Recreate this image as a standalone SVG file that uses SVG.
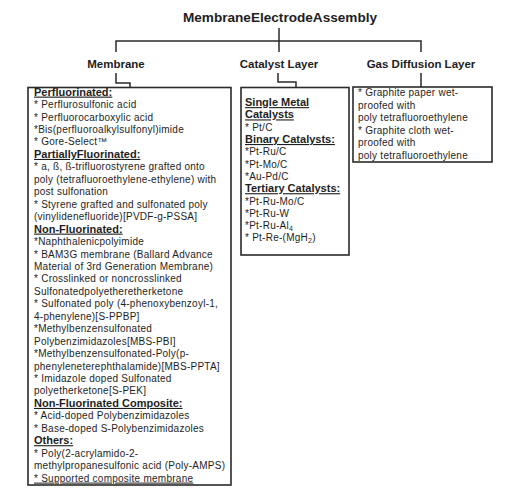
<svg xmlns="http://www.w3.org/2000/svg" width="518" height="492" viewBox="0 0 518 492">
<style>
  text { font-family: "Liberation Sans", Arial, sans-serif; fill: #1e1e1e; }
  .title { font-size: 13.6px; font-weight: bold; text-anchor: middle; }
  .lvl { font-size: 11.5px; font-weight: bold; text-anchor: middle; }
  .b { font-size: 10px; letter-spacing: 0.25px; }
  .h { font-size: 11px; font-weight: bold; text-decoration: underline; }
  .u { text-decoration: underline; }
  .box { fill: #ffffff; stroke: #2a2a2a; stroke-width: 1.6; }
  .wire { fill: none; stroke: #2a2a2a; stroke-width: 1.5; }
</style>
<rect width="518" height="492" fill="#ffffff"/>

<g id="connectors">
  <path class="wire" d="M279,28 V52"/>
  <path class="wire" d="M116,52 V41 H421 V52"/>
  <path class="wire" d="M116,73 V83 H130 V88"/>
  <path class="wire" d="M278,73 V82 H296 V88"/>
  <path class="wire" d="M421,73 V88"/>
</g>

<g id="root">
  <text class="title" x="280" y="22">MembraneElectrodeAssembly</text>
</g>

<g id="membrane-label"><text class="lvl" x="116" y="67.5">Membrane</text></g>
<g id="catalyst-label"><text class="lvl" x="279" y="67.5">Catalyst Layer</text></g>
<g id="gdl-label"><text class="lvl" x="421" y="67.5">Gas Diffusion Layer</text></g>

<g id="membrane-box">
  <rect class="box" x="28" y="87.5" width="203" height="397.5"/>
  <text class="h" x="34" y="95.6">Perfluorinated:</text>
  <text class="b" x="34" y="108.0">* Perflurosulfonic acid</text>
  <text class="b" x="34" y="120.5">* Perfluorocarboxylic acid</text>
  <text class="b" x="34" y="132.9">*Bis(perfluoroalkylsulfonyl)imide</text>
  <text class="b" x="34" y="145.4">* Gore-Select™</text>
  <text class="h" x="34" y="157.9">PartiallyFluorinated:</text>
  <text class="b" x="34" y="170.3">* a, ß, ß-trifluorostyrene grafted onto</text>
  <text class="b" x="34" y="182.8">poly  (tetrafluoroethylene-ethylene) with</text>
  <text class="b" x="34" y="195.2">post sulfonation</text>
  <text class="b" x="34" y="207.7">* Styrene grafted and sulfonated poly</text>
  <text class="b" x="34" y="220.1">(vinylidenefluoride)[PVDF-g-PSSA]</text>
  <text class="h" x="34" y="232.6">Non-Fluorinated:</text>
  <text class="b" x="34" y="245.0">*Naphthalenicpolyimide</text>
  <text class="b" x="34" y="257.5">* BAM3G membrane (Ballard Advance</text>
  <text class="b" x="34" y="269.9">Material of  3rd Generation Membrane)</text>
  <text class="b" x="34" y="282.4">* Crosslinked or noncrosslinked</text>
  <text class="b" x="34" y="294.8">Sulfonatedpolyetheretherketone</text>
  <text class="b" x="34" y="307.3">* Sulfonated poly  (4-phenoxybenzoyl-1,</text>
  <text class="b" x="34" y="319.7">4-phenylene)[S-PPBP]</text>
  <text class="b" x="34" y="332.2">*Methylbenzensulfonated</text>
  <text class="b" x="34" y="344.6">Polybenzimidazoles[MBS-PBI]</text>
  <text class="b" x="34" y="357.1">*Methylbenzensulfonated-Poly(p-</text>
  <text class="b" x="34" y="369.5">phenyleneterephthalamide)[MBS-PPTA]</text>
  <text class="b" x="34" y="382.0">* Imidazole doped Sulfonated</text>
  <text class="b" x="34" y="394.4">polyetherketone[S-PEK]</text>
  <text class="h" x="34" y="406.9">Non-Fluorinated Composite:</text>
  <text class="b" x="34" y="419.3">* Acid-doped Polybenzimidazoles</text>
  <text class="b" x="34" y="431.8">* Base-doped S-Polybenzimidazoles</text>
  <text class="h" x="34" y="444.2">Others:</text>
  <text class="b" x="34" y="456.7">* Poly(2-acrylamido-2-</text>
  <text class="b" x="34" y="469.1">methylpropanesulfonic acid (Poly-AMPS)</text>
  <text class="b u" x="34" y="481.6">* Supported composite membrane</text>
</g>

<g id="catalyst-box">
  <rect class="box" x="241" y="87.5" width="108" height="167.5"/>
  <text class="h" x="245" y="106.1">Single Metal</text>
  <text class="h" x="245" y="118.4">Catalysts</text>
  <text class="b" x="245" y="130.7">* Pt/C</text>
  <text class="h" x="245" y="143.0">Binary Catalysts:</text>
  <text class="b" x="245" y="155.3">*Pt-Ru/C</text>
  <text class="b" x="245" y="167.6">*Pt-Mo/C</text>
  <text class="b" x="245" y="179.9">*Au-Pd/C</text>
  <text class="h" x="245" y="192.2">Tertiary  Catalysts:</text>
  <text class="b" x="245" y="204.5">*Pt-Ru-Mo/C</text>
  <text class="b" x="245" y="216.8">*Pt-Ru-W</text>
  <text class="b" x="245" y="229.1">*Pt-Ru-Al<tspan font-size="7" dy="2">4</tspan></text>
  <text class="b" x="245" y="241.4">* Pt-Re-(MgH<tspan font-size="7" dy="2">2</tspan><tspan dy="-2">)</tspan></text>
</g>

<g id="gdl-box">
  <rect class="box" x="353" y="87" width="139" height="75"/>
  <text class="b" x="358" y="96.3">* Graphite  paper  wet-</text>
  <text class="b" x="358" y="108.8">proofed  with</text>
  <text class="b" x="358" y="121.3">poly tetrafluoroethylene</text>
  <text class="b" x="358" y="133.8">* Graphite  cloth  wet-</text>
  <text class="b" x="358" y="146.3">proofed  with</text>
  <text class="b" x="358" y="158.8">poly tetrafluoroethylene</text>
</g>
</svg>
